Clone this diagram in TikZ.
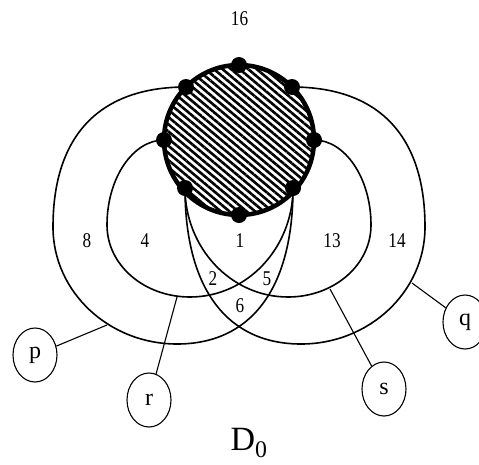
\documentclass[tikz,border=0pt]{standalone}
\usepackage{fontspec}
\setmainfont{Liberation Serif}
\newfontfamily\numfont[FakeStretch=0.82]{Liberation Serif}
\usetikzlibrary{patterns.meta,shapes.geometric}
\begin{document}
\begin{tikzpicture}[x=1pt,y=-1pt,
  loopline/.style={line width=1.6pt, line join=round},
  conn/.style={line width=1.1pt},
  num/.style={font=\numfont\fontsize{21}{21}\selectfont, inner sep=0pt},
  tag/.style={draw, line width=1.1pt, ellipse, minimum width=44pt, minimum height=54pt, inner sep=0pt, font=\fontsize{24}{24}\selectfont},
  dot/.style={fill=black}]
\useasboundingbox (0,0) rectangle (479,464);
% centre and dots
\coordinate (c) at (239,140);
\coordinate (t) at (239,65);
\coordinate (b) at (239,215);
\coordinate (l) at (164,140);
\coordinate (rr) at (314,140);
\coordinate (tl) at (186,87);
\coordinate (tr) at (292,87);
\coordinate (bl) at (185,188);
\coordinate (br) at (293,188);
% loop p (outer left)
\draw[loopline] (tl) .. controls (100,87) and (53,135) .. (53,227)
  .. controls (53,292) and (109,344) .. (177,344)
  .. controls (250,344) and (293,290) .. (br);
% loop q (outer right)
\draw[loopline] (tr) .. controls (378,87) and (425,135) .. (425,227)
  .. controls (425,292) and (369,344) .. (301,344)
  .. controls (228,344) and (185,290) .. (bl);
% loop r (inner left)
\draw[loopline] (l) .. controls (133,140) and (107,178) .. (107,225)
  .. controls (107,265) and (144,297) .. (190,297)
  .. controls (247,297) and (293,248) .. (br);
% loop s (inner right)
\draw[loopline] (rr) .. controls (345,140) and (371,178) .. (371,225)
  .. controls (371,265) and (334,297) .. (288,297)
  .. controls (231,297) and (185,248) .. (bl);
% shaded disc
\draw[line width=4.5pt, pattern={Lines[angle=-40,distance=5.5pt,line width=2.6pt]}] (c) circle (75pt);
\foreach \n in {t,b,l,rr,tl,tr,bl,br} \fill[dot] (\n) circle (8pt);
% numbers
\node[num] (n16) at (239.5,19) {16};
\node[num] (n8) at (87,241) {8};
\node[num] (n4) at (145,241) {4};
\node[num] (n1) at (240,241) {1};
\node[num] (n13) at (332,241) {13};
\node[num] (n14) at (397,241) {14};
\node[num] (n2) at (213,279) {2};
\node[num] (n5) at (267,279) {5};
\node[num] (n6) at (240,306) {6};
% tags
\node[tag] (ptag) at (35,355) {p};
\node[tag] (rtag) at (149,400) {r};
\node[tag] (stag) at (384,389) {s};
\node[tag] (qtag) at (465,322) {q};
\coordinate (pp) at (107,325);
\coordinate (rp) at (177,297);
\coordinate (sp) at (330,289);
\coordinate (qp) at (412,283);
\draw[conn] (ptag) -- (pp);
\draw[conn] (rtag) -- (rp);
\draw[conn] (stag) -- (sp);
\draw[conn] (qtag) -- (qp);
% title
\node[font=\fontsize{34}{34}\selectfont, inner sep=0pt] (title) at (249,443) {D\textsubscript{0}};
\end{tikzpicture}
\end{document}
